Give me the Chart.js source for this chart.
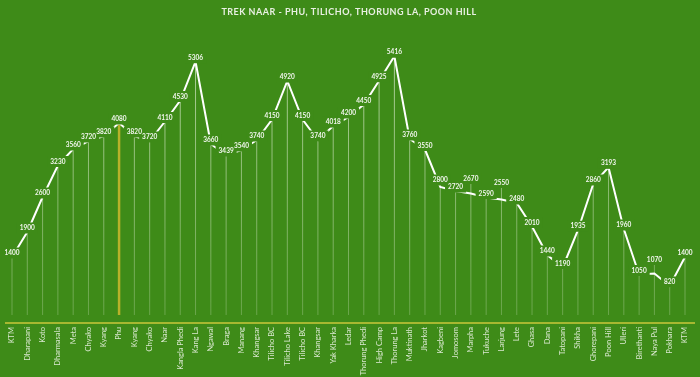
<!DOCTYPE html>
<html><head><meta charset="utf-8">
<script src="https://cdn.jsdelivr.net/npm/chart.js@4.4.1/dist/chart.umd.min.js"></script>
<style>html,body{margin:0;padding:0;background:#3e8b18;overflow:hidden}</style>
</head><body>
<canvas id="c" width="700" height="377"></canvas>
<script>
const chartTitle = 'TREK NAAR - PHU, TILICHO, THORUNG LA, POON HILL';
const categories = ['KTM','Dharapani','Koto','Dharmasala','Meta','Chyako','Kyang','Phu','Kyang','Chyako','Naar','Kangla Phedi','Kang La','Ngawal','Braga','Manang','Khangsar','Tilicho BC','Tilicho Lake','Tilicho BC','Khangsar','Yak Kharka','Ledar','Thorung Phedi','High Camp','Thorung La','Muktinath','Jharkot','Kagbeni','Jomosom','Marpha','Tukuche','Larjung','Lete','Ghasa','Dana','Tatopani','Shikha','Ghorepani','Poon Hill','Ulleri','Birethanti','Naya Pul','Pokhara','KTM'];
const elevations = [1400,1900,2600,3230,3560,3720,3820,4080,3820,3720,4110,4530,5306,3660,3439,3540,3740,4150,4920,4150,3740,4018,4200,4450,4925,5416,3760,3550,2800,2720,2670,2590,2550,2480,2010,1440,1190,1935,2860,3193,1960,1050,1070,820,1400];
const highlightIndex = 7; // Phu

const BG = '#3e8b18';
// labels that were dragged upward in the original (px lift), with leader line
const labelLift = { 28: 3, 30: 11, 32: 13, 42: 10 };

function labelCenter(pt, i) {
  return pt.y - 4 - (labelLift[i] || 0);
}

const decor = {
  id: 'decor',
  beforeDraw(chart) {
    const ctx = chart.ctx;
    ctx.save();
    ctx.fillStyle = BG;
    ctx.fillRect(0, 0, chart.width, chart.height);
    ctx.font = 'bold 9px Lato';
    ctx.fillStyle = '#e9f0e2';
    ctx.textAlign = 'center';
    ctx.textBaseline = 'middle';
    if (ctx.letterSpacing !== undefined) ctx.letterSpacing = '0.5px';
    ctx.fillText(chartTitle, 349, 12);
    ctx.restore();
  },
  beforeDatasetsDraw(chart) {
    const ctx = chart.ctx;
    const meta = chart.getDatasetMeta(0);
    const area = chart.chartArea;
    const bottom = area.bottom;
    const grad = ctx.createLinearGradient(0, area.top, 0, bottom - 8);
    grad.addColorStop(0, 'rgba(235,245,225,0.7)');
    grad.addColorStop(1, 'rgba(235,245,225,0.25)');
    ctx.save();
    meta.data.forEach((pt, i) => {
      ctx.beginPath();
      if (i === highlightIndex) {
        ctx.strokeStyle = '#b8b12a';
        ctx.lineWidth = 2.5;
      } else {
        ctx.strokeStyle = grad;
        ctx.lineWidth = 1;
      }
      const top = labelLift[i] ? labelCenter(pt, i) + 5 : pt.y;
      ctx.moveTo(pt.x, top);
      ctx.lineTo(pt.x, bottom - 8);
      ctx.stroke();
    });
    ctx.beginPath();
    ctx.strokeStyle = '#a7b831';
    ctx.lineWidth = 2;
    ctx.moveTo(5, bottom);
    ctx.lineTo(695, bottom);
    ctx.stroke();
    ctx.restore();
  },
  afterDatasetsDraw(chart) {
    const ctx = chart.ctx;
    const meta = chart.getDatasetMeta(0);
    const vals = chart.data.datasets[0].data;
    ctx.save();
    ctx.font = 'bold 6.5px Lato';
    ctx.textAlign = 'center';
    ctx.textBaseline = 'middle';
    meta.data.forEach((pt, i) => {
      const w = ctx.measureText(String(vals[i])).width;
      const cy = labelCenter(pt, i);
      ctx.fillStyle = BG;
      ctx.fillRect(pt.x - w / 2 - 3, cy - 5.5, w + 6, 11);
    });
    ctx.fillStyle = '#f2f6ee';
    meta.data.forEach((pt, i) => {
      ctx.fillText(String(vals[i]), pt.x, labelCenter(pt, i));
    });
    ctx.restore();
  }
};

new Chart(document.getElementById('c'), {
  type: 'line',
  data: {
    labels: categories,
    datasets: [{
      data: elevations,
      borderColor: '#ffffff',
      borderWidth: 2,
      pointRadius: 0,
      tension: 0,
      fill: false
    }]
  },
  options: {
    responsive: false,
    animation: false,
    devicePixelRatio: 1,
    layout: { padding: { left: 12, right: 15, top: 30, bottom: 0 } },
    plugins: { legend: { display: false }, title: { display: false }, tooltip: { enabled: false } },
    scales: {
      x: {
        offset: false,
        grid: { display: false, drawTicks: false, tickLength: 0 },
        border: { display: false },
        afterFit(scale) { scale.height = 54; },
        ticks: {
          autoSkip: false,
          maxRotation: 90,
          minRotation: 90,
          padding: 4,
          color: 'rgba(235,243,228,0.9)',
          font: { family: 'Lato', size: 7.5 }
        }
      },
      y: {
        display: false,
        min: 80,
        max: 5940
      }
    }
  },
  plugins: [decor]
});
</script>
</body></html>
